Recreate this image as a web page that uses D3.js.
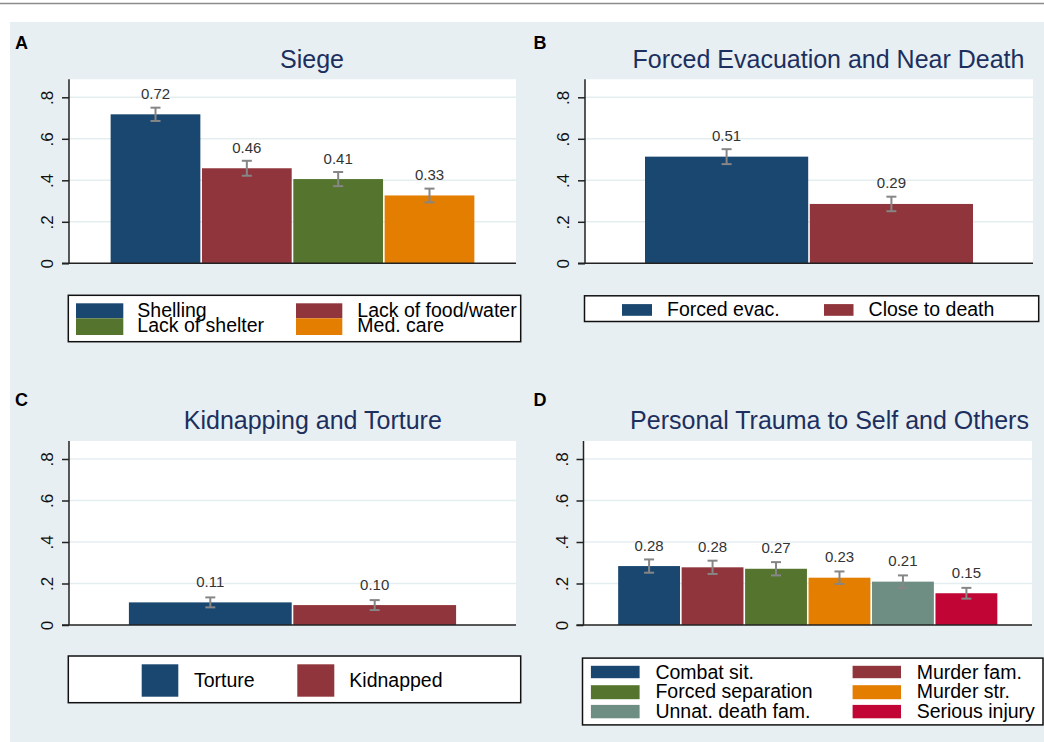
<!DOCTYPE html>
<html>
<head>
<meta charset="utf-8">
<script src="https://cdn.jsdelivr.net/npm/d3@7"></script>
<style>
  html, body { margin: 0; padding: 0; background: #ffffff; }
  svg { display: block; }
  text { font-family: "Liberation Sans", Arial, Helvetica, sans-serif; }
</style>
</head>
<body>
<svg id="chart" width="1044" height="742"></svg>
<script>
// ---------------- DATA ----------------
const yTicks = [0, 0.2, 0.4, 0.6, 0.8];
const yTickLabels = ["0", ".2", ".4", ".6", ".8"];

const siegeTitle = "Siege";
const siegeCats = ["Shelling", "Lack of food/water", "Lack of shelter", "Med. care"];
const siegeVals = [0.718, 0.458, 0.406, 0.327];
const siegeErr  = [0.032, 0.036, 0.034, 0.033];

const evacTitle = "Forced Evacuation and Near Death";
const evacCats = ["Forced evac.", "Close to death"];
const evacVals = [0.514, 0.286];
const evacErr  = [0.036, 0.035];

const kidTitle = "Kidnapping and Torture";
const kidCats = ["Torture", "Kidnapped"];
const kidVals = [0.109, 0.096];
const kidErr  = [0.024, 0.024];

const traumaTitle = "Personal Trauma to Self and Others";
const traumaCats = ["Combat sit.", "Murder fam.", "Forced separation", "Murder str.", "Unnat. death fam.", "Serious injury"];
const traumaVals = [0.284, 0.278, 0.271, 0.228, 0.209, 0.153];
const traumaErr  = [0.032, 0.032, 0.032, 0.030, 0.030, 0.026];

// ---------------- STYLE ----------------
const C = {
  navy: "#1a476f", maroon: "#90353b", green: "#55752f",
  orange: "#e37e00", teal: "#6e8e84", cranberry: "#c10534"
};
const bg = "#e8eff2";
const gridCol = "#e4edf0";
const titleCol = "#1c2f5e";
const errCol = "#868686";

const panels = [
  { letter: "A", title: siegeTitle, cats: siegeCats, vals: siegeVals, errs: siegeErr,
    colors: [C.navy, C.maroon, C.green, C.orange],
    x0: 69, x1: 516, yT: 79.3, yB: 263.3, lx: 15, ly: 49, tx: 312, ty: 68.3,
    legend: { x: 68.3, y: 295.3, w: 452.4, h: 46.4, ncol: 2,
      cols: [{ sx: 76, sw: 47.3, tx: 137.3 }, { sx: 296, sw: 46.3, tx: 357.3 }],
      rows: [{ sy: 303.3, sh: 15, ty: 316.7 }, { sy: 318.3, sh: 16.7, ty: 332.3 }] } },
  { letter: "B", title: evacTitle, cats: evacCats, vals: evacVals, errs: evacErr,
    colors: [C.navy, C.maroon],
    x0: 585, x1: 1033, yT: 79.3, yB: 263.3, lx: 533.4, ly: 49, tx: 828.5, ty: 68.3,
    legend: { x: 584.5, y: 295.8, w: 454.2, h: 25.7, ncol: 2,
      cols: [{ sx: 622, sw: 30, tx: 667 }, { sx: 824, sw: 29.5, tx: 868.6 }],
      rows: [{ sy: 304.1, sh: 11.7, ty: 315.5 }] } },
  { letter: "C", title: kidTitle, cats: kidCats, vals: kidVals, errs: kidErr,
    colors: [C.navy, C.maroon],
    x0: 69, x1: 516, yT: 441, yB: 625, lx: 15, ly: 406, tx: 312.8, ty: 429.3,
    legend: { x: 68.3, y: 656, w: 452.4, h: 46.7, ncol: 2,
      cols: [{ sx: 141.7, sw: 36.6, tx: 194 }, { sx: 297.3, sw: 37, tx: 349.3 }],
      rows: [{ sy: 664.3, sh: 32.4, ty: 686.7 }] } },
  { letter: "D", title: traumaTitle, cats: traumaCats, vals: traumaVals, errs: traumaErr,
    colors: [C.navy, C.maroon, C.green, C.orange, C.teal, C.cranberry],
    x0: 583.5, x1: 1032, yT: 441, yB: 625, lx: 533.4, ly: 406, tx: 829.5, ty: 429.3,
    legend: { x: 582.5, y: 658.1, w: 460.5, h: 66.8, ncol: 2,
      cols: [{ sx: 590.9, sw: 48.7, tx: 655.4 }, { sx: 852.6, sw: 48.4, tx: 916.7 }],
      rows: [{ sy: 665.8, sh: 12.4, ty: 679.2 }, { sy: 685.2, sh: 14, ty: 698.2 }, { sy: 704.9, sh: 13.4, ty: 717.6 }] } }
];

// ---------------- DRAW ----------------
const svg = d3.select("#chart");
svg.append("rect").attr("x", 0).attr("y", 0).attr("width", 1044).attr("height", 742).attr("fill", "#fff");
svg.append("line").attr("x1", 0).attr("x2", 1044).attr("y1", 3.5).attr("y2", 3.5)
  .attr("stroke", "#8c8c8c").attr("stroke-width", 1.5);
svg.append("rect").attr("x", 10).attr("y", 22).attr("width", 1034).attr("height", 720).attr("fill", bg);

const fmt = d3.format(".2f");

panels.forEach(p => {
  const g = svg.append("g");
  const margin = 18;
  const y = d3.scaleLinear().domain([0, 0.8]).range([p.yB, p.yB - 166]);
  const x = d3.scaleBand().domain(p.cats).range([p.x0 + margin, p.x1 - margin])
    .paddingInner(0).paddingOuter(0.25);

  // letter and title
  g.append("text").attr("x", p.lx).attr("y", p.ly).attr("font-size", 18).attr("font-weight", "bold")
    .attr("fill", "#000").text(p.letter);
  g.append("text").attr("x", p.tx).attr("y", p.ty).attr("font-size", 25).attr("text-anchor", "middle")
    .attr("fill", titleCol).text(p.title);

  // plot region
  g.append("rect").attr("x", p.x0).attr("y", p.yT).attr("width", p.x1 - p.x0).attr("height", p.yB - p.yT)
    .attr("fill", "#fff");

  // gridlines
  g.selectAll(".grid").data(yTicks.filter(d => d > 0)).enter().append("line")
    .attr("x1", p.x0).attr("x2", p.x1).attr("y1", d => y(d)).attr("y2", d => y(d))
    .attr("stroke", gridCol).attr("stroke-width", 1.5);

  // bars
  const data = p.cats.map((c, i) => ({ c, v: p.vals[i], e: p.errs[i], col: p.colors[i] }));
  g.selectAll(".bar").data(data).enter().append("rect")
    .attr("x", d => x(d.c) + 0.8).attr("width", x.bandwidth() - 1.6)
    .attr("y", d => y(d.v)).attr("height", d => y(0) - y(d.v))
    .attr("fill", d => d.col);

  // error bars
  const eb = g.selectAll(".eb").data(data).enter().append("g")
    .attr("stroke", errCol).attr("stroke-width", 2);
  eb.append("line").attr("x1", d => x(d.c) + x.bandwidth() / 2).attr("x2", d => x(d.c) + x.bandwidth() / 2)
    .attr("y1", d => y(d.v + d.e)).attr("y2", d => y(d.v - d.e));
  eb.append("line").attr("x1", d => x(d.c) + x.bandwidth() / 2 - 5).attr("x2", d => x(d.c) + x.bandwidth() / 2 + 5)
    .attr("y1", d => y(d.v + d.e)).attr("y2", d => y(d.v + d.e));
  eb.append("line").attr("x1", d => x(d.c) + x.bandwidth() / 2 - 5).attr("x2", d => x(d.c) + x.bandwidth() / 2 + 5)
    .attr("y1", d => y(d.v - d.e)).attr("y2", d => y(d.v - d.e));

  // value labels
  g.selectAll(".vl").data(data).enter().append("text")
    .attr("x", d => x(d.c) + x.bandwidth() / 2).attr("y", d => y(d.v) - 15.5)
    .attr("text-anchor", "middle").attr("font-size", 15).attr("fill", "#333")
    .text(d => fmt(d.v));

  // y axis
  const ax = g.append("g").attr("transform", `translate(${p.x0},0)`)
    .call(d3.axisLeft(y).tickValues(yTicks).tickSize(7).tickFormat((d, i) => yTickLabels[i]));
  ax.select(".domain").remove();
  ax.selectAll(".tick line").attr("stroke", "#222").attr("stroke-width", 1.5);
  ax.selectAll(".tick text").attr("x", null).attr("dy", null)
    .attr("transform", "translate(-16,0) rotate(-90)")
    .attr("text-anchor", "middle").attr("font-size", 17).attr("fill", "#111")
    .attr("font-family", "'Liberation Sans', Arial, sans-serif");
  g.append("line").attr("x1", p.x0).attr("x2", p.x0).attr("y1", p.yT).attr("y2", p.yB)
    .attr("stroke", "#222").attr("stroke-width", 1.5);
  g.append("line").attr("x1", p.x0 - 7).attr("x2", p.x1).attr("y1", p.yB).attr("y2", p.yB)
    .attr("stroke", "#222").attr("stroke-width", 1.5);

  // legend
  const L = p.legend;
  g.append("rect").attr("x", L.x).attr("y", L.y).attr("width", L.w).attr("height", L.h)
    .attr("fill", "#fff").attr("stroke", "#111").attr("stroke-width", 1.5);
  data.forEach((d, i) => {
    const col = L.cols[i % L.ncol], row = L.rows[Math.floor(i / L.ncol)];
    g.append("rect").attr("x", col.sx).attr("y", row.sy).attr("width", col.sw).attr("height", row.sh)
      .attr("fill", d.col);
  });
  data.forEach((d, i) => {
    const col = L.cols[i % L.ncol], row = L.rows[Math.floor(i / L.ncol)];
    g.append("text").attr("x", col.tx).attr("y", row.ty).attr("font-size", 19.5).attr("fill", "#000")
      .text(d.c);
  });
});
</script>
</body>
</html>
